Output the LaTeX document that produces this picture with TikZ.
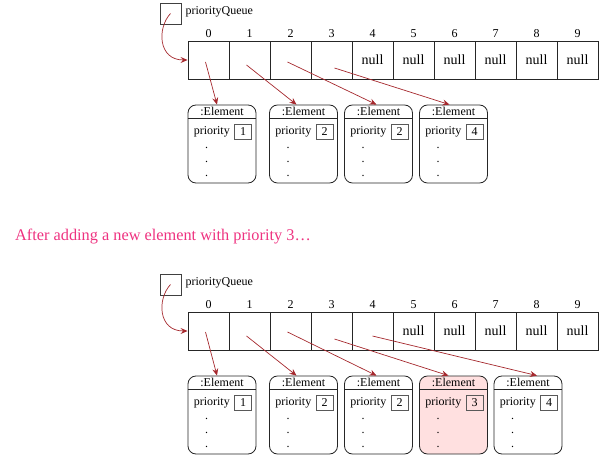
\documentclass[tikz,border=0pt]{standalone}
\usepackage{fontspec}
\setmainfont{Liberation Serif}
\usetikzlibrary{arrows.meta,positioning}

\definecolor{ptrred}{RGB}{165,40,45}
\definecolor{newpink}{RGB}{255,224,224}
\definecolor{titlepink}{RGB}{238,50,128}

\tikzset{
  ptrbox/.style={draw=black!75, line width=.8pt, minimum width=21, minimum height=21, inner sep=0pt},
  cell/.style={draw=black!85, line width=.9pt, minimum width=41, minimum height=38, inner sep=0pt, font=\fontsize{14}{16}\selectfont},
  idx/.style={inner sep=1pt, font=\fontsize{12}{14}\selectfont},
  elem/.style={draw=black!85, line width=.8pt, rounded corners=8pt, minimum width=68, minimum height=78, inner sep=0pt},
  valbox/.style={draw=black!65, line width=1pt, minimum width=17, minimum height=15, inner sep=0pt, font=\fontsize{12}{14}\selectfont},
  lbl/.style={inner sep=1pt, font=\fontsize{12}{14}\selectfont},
  ptr/.style={draw=ptrred, line width=.7pt, -{Stealth[length=7pt,width=6pt,inset=2.5pt]}},
}

\begin{document}
\begin{tikzpicture}[x=1pt, y=-1pt]
  \useasboundingbox (0,0) rectangle (611,465);

  % before adding
  \node[ptrbox] (pqA) at (170.5,13.5) {};
  \node[lbl, anchor=west, xshift=3pt, yshift=2pt] (pqAname) at (pqA.east) {priorityQueue};

  \foreach \i in {0,...,3}
    \node[cell] (A\i) at (208.5+41*\i,60) {};
  \foreach \i in {4,...,9}
    \node[cell] (A\i) at (208.5+41*\i,60) {null};
  \foreach \i in {0,...,9}
    \node[idx, above=2pt of A\i] (Ai\i) {\i};

  \foreach \i/\x/\v in {0/222/1, 1/303.5/2, 2/378.5/2, 3/453.5/4}
  {
    \node[elem] (eA\i) at (\x,144) {};
    \draw[black!85, line width=.8pt] ([yshift=-14]eA\i.north west) -- ([yshift=-14]eA\i.north east);
    \node[lbl] (eAh\i) at ([yshift=-7]eA\i.north) {:Element};
    \node[lbl, anchor=west] (eAp\i) at ([xshift=5, yshift=-27]eA\i.north west) {priority};
    \node[valbox] (eAv\i) at ([xshift=55.5, yshift=-27]eA\i.north west) {\v};
    \foreach \j/\d in {1/43, 2/57, 3/71}
      \node[lbl] (eAd\i\j) at ([xshift=19, yshift=-\d]eA\i.north west) {.};
  }

  \draw[ptr] (pqA.center) .. controls (157,28) and (158,60) .. (A0.west);
  \foreach \i/\sx/\sy/\ex in {0/-3/2/-5, 1/-3/5/-7, 2/-3/2/-2, 3/3/8/-4}
    \draw[ptr] ([xshift=\sx, yshift=-\sy]A\i.center) -- ([xshift=\ex]eA\i.north);

  \node[anchor=base west, inner sep=0pt, text=titlepink, font=\fontsize{16.3}{19}\selectfont] (afterAdd) at (15,241)
    {After adding a new element with priority 3\ldots};

  % after adding
  \node[ptrbox] (pqB) at (170.5,284.5) {};
  \node[lbl, anchor=west, xshift=3pt, yshift=2pt] (pqBname) at (pqB.east) {priorityQueue};

  \foreach \i in {0,...,4}
    \node[cell] (B\i) at (208.5+41*\i,331) {};
  \foreach \i in {5,...,9}
    \node[cell] (B\i) at (208.5+41*\i,331) {null};
  \foreach \i in {0,...,9}
    \node[idx, above=2pt of B\i] (Bi\i) {\i};

  \foreach \i/\x/\v/\c in {0/222/1/white, 1/303.5/2/white, 2/378.5/2/white, 3/453.5/3/newpink, 4/528/4/white}
  {
    \node[elem, fill=\c] (eB\i) at (\x,415) {};
    \draw[black!85, line width=.8pt] ([yshift=-14]eB\i.north west) -- ([yshift=-14]eB\i.north east);
    \node[lbl] (eBh\i) at ([yshift=-7]eB\i.north) {:Element};
    \node[lbl, anchor=west] (eBp\i) at ([xshift=5, yshift=-27]eB\i.north west) {priority};
    \node[valbox] (eBv\i) at ([xshift=55.5, yshift=-27]eB\i.north west) {\v};
    \foreach \j/\d in {1/43, 2/57, 3/71}
      \node[lbl] (eBd\i\j) at ([xshift=19, yshift=-\d]eB\i.north west) {.};
  }

  \draw[ptr] (pqB.center) .. controls (157,299) and (158,331) .. (B0.west);
  \foreach \i/\sx/\sy/\ex in {0/-3/1/-5, 1/-3/5/-7, 2/-3/1/-2, 3/3/8/-5, 4/0/5/9}
    \draw[ptr] ([xshift=\sx, yshift=-\sy]B\i.center) -- ([xshift=\ex]eB\i.north);

\end{tikzpicture}
\end{document}
